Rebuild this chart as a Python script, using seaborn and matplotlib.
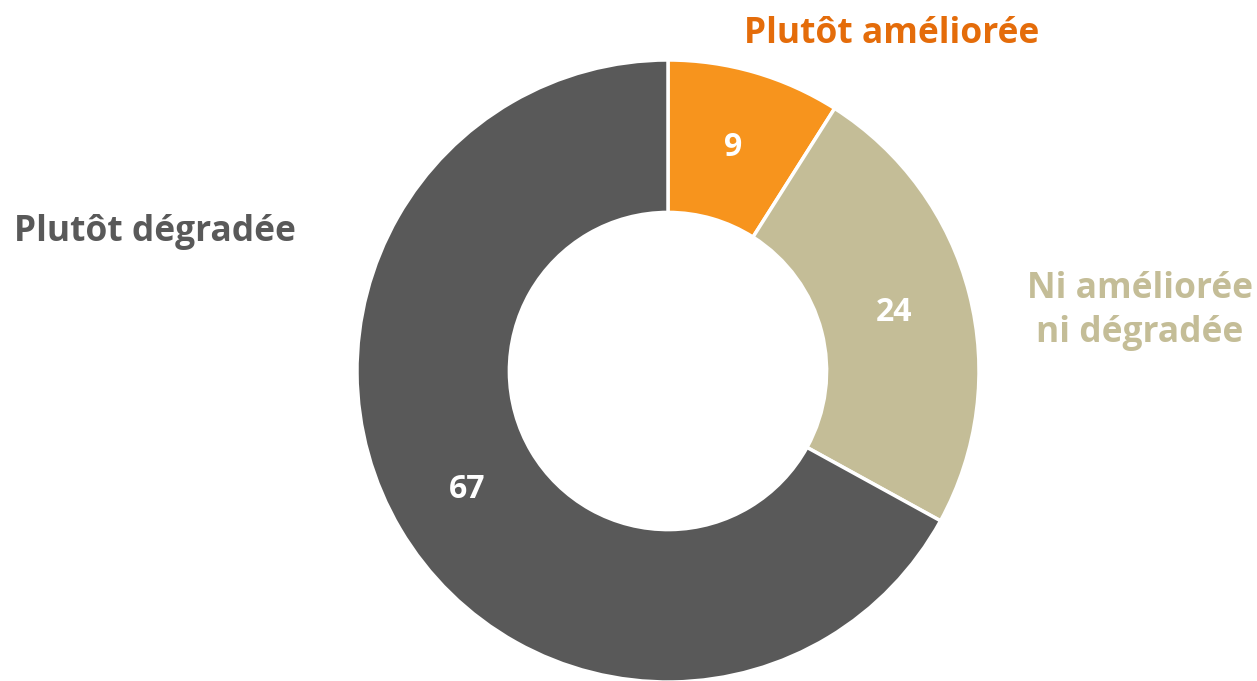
import matplotlib
matplotlib.use("Agg")
import matplotlib.pyplot as plt
import seaborn as sns

sns.set_theme(style="white")
plt.rcParams['font.family'] = ['Open Sans', 'DejaVu Sans']

categories = ["Plutôt améliorée", "Ni améliorée\nni dégradée", "Plutôt dégradée"]
values = [9, 24, 67]
colors = ["#F7941D", "#C4BD97", "#595959"]
label_colors = ["#E46C0A", "#C4BD97", "#595959"]

W, H = 1257, 681
cx, cy, R = 668, 371, 311  # pixel layout of donut

fig = plt.figure(figsize=(W / 100, H / 100), dpi=100)
ax = fig.add_axes([0, 0, 1, 1])

wedges, texts = ax.pie(
    values, colors=colors, startangle=90, counterclock=False, radius=1,
    wedgeprops=dict(width=0.49, edgecolor="white", linewidth=2.5),
    labels=[str(v) for v in values], labeldistance=0.75,
    textprops=dict(color="white", fontsize=23, fontweight="bold",
                   ha="center", va="center"),
)
for t in texts:
    t.set_ha("center")
    t.set_va("center")

ax.set_xlim(-cx / R, (W - cx) / R)
ax.set_ylim(-(H - cy) / R, cy / R)
ax.set_aspect("equal")
ax.axis("off")

def px(x, y):
    return ((x - cx) / R, (cy - y) / R)

label_pos = [(892, 34), (1140, 311), (155, 232)]
for cat, col, (x, y) in zip(categories, label_colors, label_pos):
    ax.text(*px(x, y), cat, color=col, fontsize=25.5, fontweight="bold",
            ha="center", va="center", linespacing=1.3)

fig.savefig("out.png", dpi=100)
